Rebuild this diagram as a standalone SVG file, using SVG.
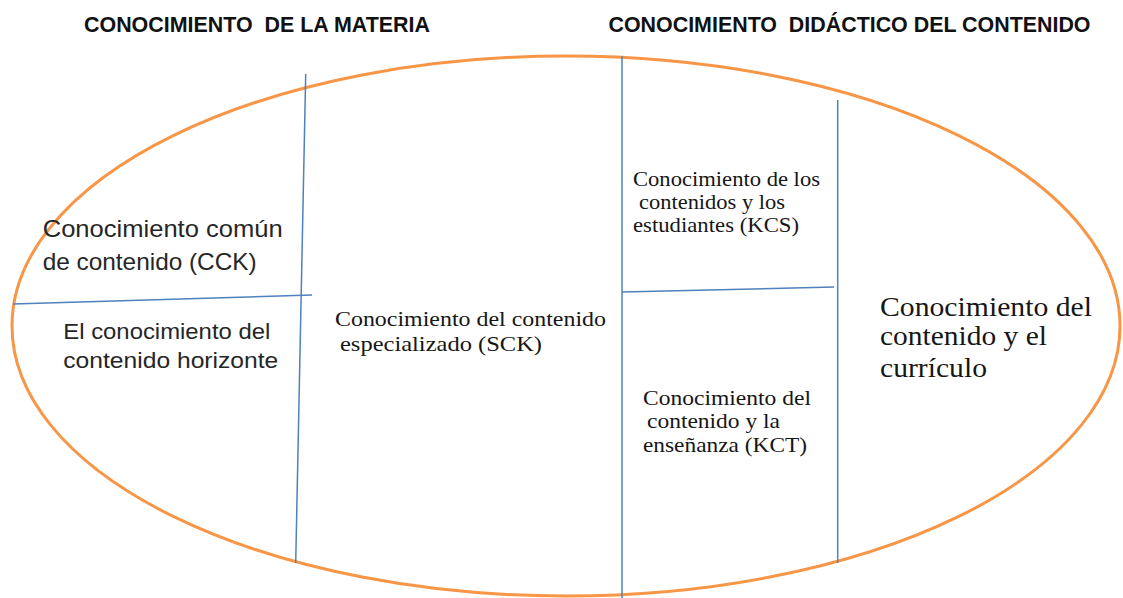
<svg xmlns="http://www.w3.org/2000/svg" width="1123" height="598" viewBox="0 0 1123 598">
<style>
.title{font-family:"Liberation Sans",Arial,sans-serif;font-weight:bold;font-size:22px;fill:#111}
.sans{font-family:"Liberation Sans",Arial,sans-serif;font-size:24px;fill:#262626}
.sans2{font-family:"Liberation Sans",Arial,sans-serif;font-size:22px;fill:#262626}
.serif{font-family:"Liberation Serif","Times New Roman",serif;fill:#161616}
.div{stroke:#4F81BD;stroke-width:1.5;fill:none}
</style>
<rect width="1123" height="598" fill="#ffffff"/>
<g id="frame">
<ellipse cx="566" cy="326" rx="554" ry="270" fill="none" stroke="#F79646" stroke-width="3"/>
</g>
<g id="dividers">
<line class="div" x1="305.7" y1="74" x2="295.7" y2="563"/>
<line class="div" x1="13" y1="304" x2="312" y2="295"/>
<line class="div" x1="622" y1="56" x2="622" y2="598"/>
<line class="div" x1="622" y1="292" x2="834" y2="287"/>
<line class="div" x1="837.7" y1="100" x2="837.7" y2="563"/>
</g>
<g id="title-materia">
<text class="title" x="84" y="32" textLength="346" lengthAdjust="spacingAndGlyphs" xml:space="preserve">CONOCIMIENTO  DE LA MATERIA</text>
</g>
<g id="title-didactico">
<text class="title" x="608.5" y="32" textLength="482" lengthAdjust="spacingAndGlyphs" xml:space="preserve">CONOCIMIENTO  DIDÁCTICO DEL CONTENIDO</text>
</g>
<g id="node-cck">
<text class="sans" x="42.7" y="236.7" textLength="240" lengthAdjust="spacingAndGlyphs">Conocimiento común</text>
<text class="sans" x="42.7" y="270" textLength="214" lengthAdjust="spacingAndGlyphs">de contenido (CCK)</text>
</g>
<g id="node-horizonte">
<text class="sans2" x="63.3" y="339" textLength="207" lengthAdjust="spacingAndGlyphs">El conocimiento del</text>
<text class="sans2" x="63.3" y="368" textLength="215" lengthAdjust="spacingAndGlyphs">contenido horizonte</text>
</g>
<g id="node-sck">
<text class="serif" x="335" y="326" font-size="22" textLength="271" lengthAdjust="spacingAndGlyphs">Conocimiento del contenido</text>
<text class="serif" x="340" y="351" font-size="22" textLength="202" lengthAdjust="spacingAndGlyphs">especializado (SCK)</text>
</g>
<g id="node-kcs">
<text class="serif" x="633" y="186" font-size="21" textLength="187" lengthAdjust="spacingAndGlyphs">Conocimiento de los</text>
<text class="serif" x="639" y="209" font-size="21" textLength="146" lengthAdjust="spacingAndGlyphs">contenidos y los</text>
<text class="serif" x="633" y="232" font-size="21" textLength="166" lengthAdjust="spacingAndGlyphs">estudiantes (KCS)</text>
</g>
<g id="node-kct">
<text class="serif" x="643" y="405" font-size="21" textLength="168" lengthAdjust="spacingAndGlyphs">Conocimiento del</text>
<text class="serif" x="647" y="428" font-size="21" textLength="133" lengthAdjust="spacingAndGlyphs">contenido y la</text>
<text class="serif" x="643" y="452" font-size="21" textLength="164" lengthAdjust="spacingAndGlyphs">enseñanza (KCT)</text>
</g>
<g id="node-curriculo">
<text class="serif" x="880" y="316" font-size="27" textLength="212" lengthAdjust="spacingAndGlyphs">Conocimiento del</text>
<text class="serif" x="880" y="345" font-size="27" textLength="167" lengthAdjust="spacingAndGlyphs">contenido y el</text>
<text class="serif" x="880" y="377" font-size="27" textLength="107" lengthAdjust="spacingAndGlyphs">currículo</text>
</g>
</svg>
